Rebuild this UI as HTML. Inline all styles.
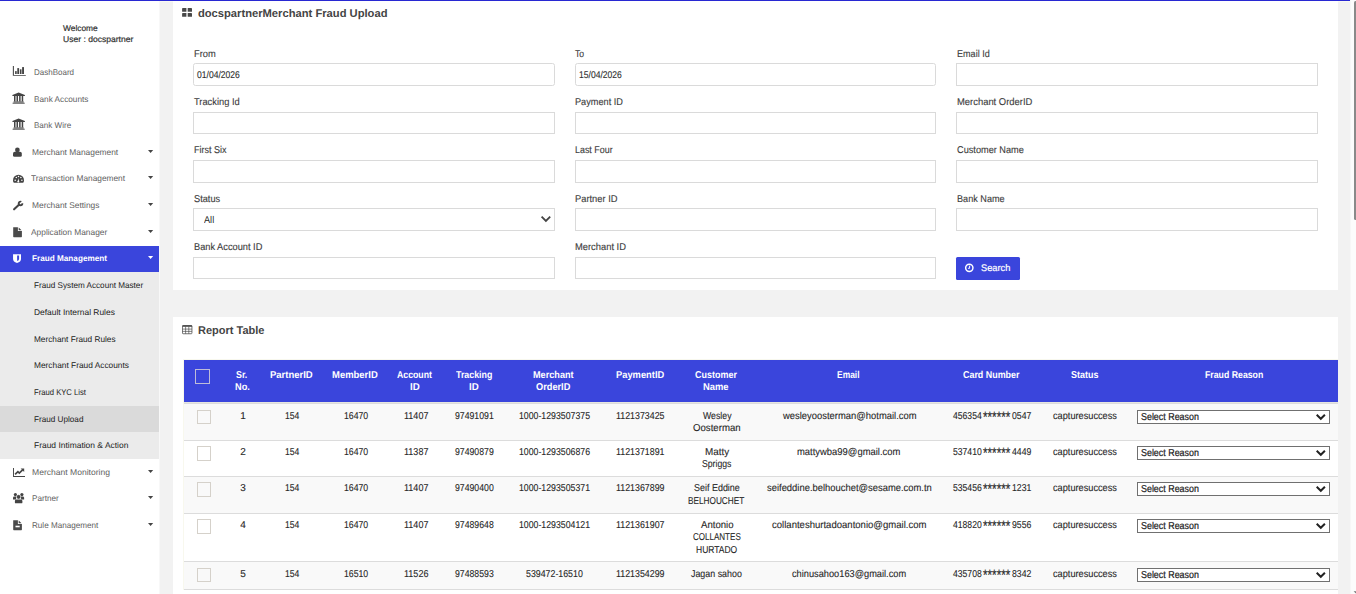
<!DOCTYPE html>
<html><head><meta charset="utf-8"><title>Merchant Fraud Upload</title>
<style>
html,body{margin:0;padding:0}
body{width:1356px;height:594px;overflow:hidden;background:#f2f2f2;position:relative;font-family:"Liberation Sans", sans-serif}
.b{position:absolute;box-sizing:content-box;display:block}
.t{position:absolute;white-space:pre;text-rendering:geometricPrecision;transform-origin:0 50%;line-height:16px;height:16px;font-family:"Liberation Sans", sans-serif}
</style></head><body>
<div class="b" style="left:0px;top:0px;width:1350px;height:1px;background:#2828d2;"></div>
<div class="b" style="left:0px;top:1px;width:1350px;height:1px;background:#fafaf2;"></div>
<div class="b" style="left:1350px;top:0px;width:1px;height:594px;background:#f7f7f7;"></div>
<div class="b" style="left:1351px;top:0px;width:5px;height:594px;background:#fcfcfc;"></div>
<div class="b" style="left:1354px;top:1px;width:2px;height:218.5px;background:#8a8a8a;border-radius:1.5px 0 0 1.5px;"></div>
<svg class="b" style="left:1352px;top:590px" width="4" height="4" viewBox="0 0 4 4"><path d="M1.6 1.2H4V3.6z" fill="#777"/></svg>
<div class="b" style="left:0px;top:1px;width:159px;height:593px;background:#fff;"></div>
<div class="b" style="left:159px;top:1px;width:1px;height:593px;background:#f8f8f8;"></div>
<span class="t" style="left:63.00px;top:20px;font-size:8.3px;color:#333;transform:scaleX(1.0082);-webkit-text-stroke:0.2px #333;">Welcome</span>
<span class="t" style="left:63.00px;top:31px;font-size:8.3px;color:#333;transform:scaleX(1.0309);-webkit-text-stroke:0.2px #333;">User : docspartner</span>
<div class="b" style="left:0px;top:246px;width:159px;height:26px;background:#3a45dc;"></div>
<div class="b" style="left:0px;top:272px;width:159px;height:187px;background:#ebebeb;"></div>
<div class="b" style="left:0px;top:406px;width:159px;height:26px;background:#dadada;"></div>
<span class="t" style="left:34.00px;top:64px;font-size:8.3px;color:#626262;transform:scaleX(0.9643);">DashBoard</span>
<span class="t" style="left:33.80px;top:91px;font-size:8.3px;color:#626262;transform:scaleX(0.9910);">Bank Accounts</span>
<span class="t" style="left:33.80px;top:117px;font-size:8.3px;color:#626262;transform:scaleX(0.9702);">Bank Wire</span>
<span class="t" style="left:31.60px;top:144px;font-size:8.3px;color:#626262;transform:scaleX(1.0103);">Merchant Management</span>
<svg class="b" style="left:148px;top:150px" width="6" height="4" viewBox="0 0 6 4"><path d="M0 0H5.2L2.6 3z" fill="#444"/></svg>
<span class="t" style="left:31.10px;top:170px;font-size:8.3px;color:#626262;transform:scaleX(1.0025);">Transaction Management</span>
<svg class="b" style="left:148px;top:176px" width="6" height="4" viewBox="0 0 6 4"><path d="M0 0H5.2L2.6 3z" fill="#444"/></svg>
<span class="t" style="left:31.60px;top:197px;font-size:8.3px;color:#626262;transform:scaleX(1.0087);">Merchant Settings</span>
<svg class="b" style="left:148px;top:203px" width="6" height="4" viewBox="0 0 6 4"><path d="M0 0H5.2L2.6 3z" fill="#444"/></svg>
<span class="t" style="left:31.10px;top:224px;font-size:8.3px;color:#626262;transform:scaleX(1.0082);">Application Manager</span>
<svg class="b" style="left:148px;top:230px" width="6" height="4" viewBox="0 0 6 4"><path d="M0 0H5.2L2.6 3z" fill="#444"/></svg>
<span class="t" style="left:31.80px;top:250px;font-size:8.3px;color:#fff;font-weight:700;transform:scaleX(0.9855);">Fraud Management</span>
<svg class="b" style="left:148px;top:256px" width="6" height="4" viewBox="0 0 6 4"><path d="M0 0H5.2L2.6 3z" fill="#fff"/></svg>
<span class="t" style="left:33.80px;top:277px;font-size:8.3px;color:#222;transform:scaleX(0.9819);">Fraud System Account Master</span>
<span class="t" style="left:33.80px;top:304px;font-size:8.3px;color:#222;transform:scaleX(1.0134);">Default Internal Rules</span>
<span class="t" style="left:33.80px;top:331px;font-size:8.3px;color:#222;transform:scaleX(0.9935);">Merchant Fraud Rules</span>
<span class="t" style="left:33.80px;top:357px;font-size:8.3px;color:#222;transform:scaleX(1.0048);">Merchant Fraud Accounts</span>
<span class="t" style="left:33.80px;top:384px;font-size:8.3px;color:#222;transform:scaleX(0.9236);">Fraud KYC List</span>
<span class="t" style="left:33.80px;top:411px;font-size:8.3px;color:#222;transform:scaleX(0.9831);">Fraud Upload</span>
<span class="t" style="left:33.80px;top:437px;font-size:8.3px;color:#222;transform:scaleX(1.0178);">Fraud Intimation &amp; Action</span>
<span class="t" style="left:31.65px;top:464px;font-size:8.3px;color:#626262;transform:scaleX(1.0314);">Merchant Monitoring</span>
<svg class="b" style="left:148px;top:470px" width="6" height="4" viewBox="0 0 6 4"><path d="M0 0H5.2L2.6 3z" fill="#444"/></svg>
<span class="t" style="left:31.65px;top:490px;font-size:8.3px;color:#626262;transform:scaleX(0.9838);">Partner</span>
<svg class="b" style="left:148px;top:496px" width="6" height="4" viewBox="0 0 6 4"><path d="M0 0H5.2L2.6 3z" fill="#444"/></svg>
<span class="t" style="left:31.65px;top:517px;font-size:8.3px;color:#626262;transform:scaleX(0.9768);">Rule Management</span>
<svg class="b" style="left:148px;top:523px" width="6" height="4" viewBox="0 0 6 4"><path d="M0 0H5.2L2.6 3z" fill="#444"/></svg>
<svg class="b" style="left:12px;top:65px" width="15" height="12" viewBox="0 0 15 12"><path d="M0.85 1V10.8H13.8V9.9H1.9V1z" fill="#444"/><rect x="3.1" y="6.1" width="1.6" height="2.9" fill="#444"/><rect x="5.3" y="3.1" width="1.8" height="5.9" fill="#444"/><rect x="7.9" y="4.3" width="1.6" height="4.7" fill="#444"/><rect x="10.1" y="2.1" width="1.9" height="6.9" fill="#444"/></svg>
<svg class="b" style="left:12px;top:92px" width="14" height="13" viewBox="0 0 14 13"><path d="M6.6 0.5L12.9 3.1V3.9H0.4V3.1z" fill="#444"/><rect x="2.0" y="3.9" width="1.5" height="5.6" fill="#444"/><rect x="4.5" y="3.9" width="1.5" height="5.6" fill="#444"/><rect x="7.1" y="3.9" width="1.5" height="5.6" fill="#444"/><rect x="9.7" y="3.9" width="1.5" height="5.6" fill="#444"/><rect x="1.5" y="9.5" width="10.2" height="1.1" fill="#444"/><rect x="0.6" y="10.6" width="12.1" height="1.3" fill="#777"/></svg>
<svg class="b" style="left:12px;top:118px" width="14" height="13" viewBox="0 0 14 13"><path d="M6.6 0.5L12.9 3.1V3.9H0.4V3.1z" fill="#444"/><rect x="2.0" y="3.9" width="1.5" height="5.6" fill="#444"/><rect x="4.5" y="3.9" width="1.5" height="5.6" fill="#444"/><rect x="7.1" y="3.9" width="1.5" height="5.6" fill="#444"/><rect x="9.7" y="3.9" width="1.5" height="5.6" fill="#444"/><rect x="1.5" y="9.5" width="10.2" height="1.1" fill="#444"/><rect x="0.6" y="10.6" width="12.1" height="1.3" fill="#777"/></svg>
<svg class="b" style="left:12px;top:147px" width="12" height="11" viewBox="0 0 12 11"><circle cx="5.4" cy="2.9" r="2.35" fill="#444"/><path d="M1 6.6Q1 4.8 2.8 4.8H8Q9.8 4.8 9.8 6.6V8.4Q9.8 9.8 8.3 9.8H2.5Q1 9.8 1 8.4z" fill="#444"/></svg>
<svg class="b" style="left:12px;top:174px" width="14" height="10" viewBox="0 0 14 10"><path d="M1 6.3A5.5 5.6 0 0 1 12 6.3Q12 7.8 11.2 8.8H1.8Q1 7.8 1 6.3z" fill="#444"/><circle cx="3.2" cy="6.3" r="0.75" fill="#fff"/><circle cx="4.3" cy="3.6" r="0.75" fill="#fff"/><circle cx="6.5" cy="2.5" r="0.75" fill="#fff"/><circle cx="8.9" cy="3.6" r="0.75" fill="#fff"/><circle cx="9.9" cy="6.3" r="0.75" fill="#fff"/><path d="M6.9 3.9L6.0 6.4A1 1 0 1 0 6.9 6.6z" fill="#fff"/></svg>
<svg class="b" style="left:12px;top:200px" width="13" height="11" viewBox="0 0 13 11"><circle cx="8.5" cy="3.4" r="1.8" stroke="#444" stroke-width="1.9" fill="none"/><path d="M8.3 3.5L10.3 0H13V3.1z" fill="#fff"/><path d="M2.1 9.3L7.2 4.6" stroke="#444" stroke-width="2.1" stroke-linecap="round" fill="none"/></svg>
<svg class="b" style="left:12px;top:227px" width="11" height="11" viewBox="0 0 11 11"><path d="M1.2 0.2H5.9V3.9H9.9V9.6Q9.9 10.2 9.3 10.2H1.8Q1.2 10.2 1.2 9.6z" fill="#4a4a4a"/><path d="M6.7 0.4L9.6 3.2H6.7z" fill="#4a4a4a"/></svg>
<svg class="b" style="left:12px;top:254px" width="10" height="10" viewBox="0 0 10 10"><path d="M1.05 0.2H9V4.9Q9 7.6 5 9.1Q1.05 7.6 1.05 4.9z" fill="#fff"/><path d="M5.1 1.4H7.1V4.9Q7.1 6.2 5.1 7.1z" fill="#3a45dc"/></svg>
<svg class="b" style="left:12px;top:467px" width="15" height="11" viewBox="0 0 15 11"><path d="M1.05 0.9V10H13V9.1H2V0.9z" fill="#444"/><path d="M3.1 7.4L5.9 4.6L7.3 6L10.6 2.9" stroke="#444" stroke-width="1.7" fill="none"/><path d="M8.7 1.6H12.2V5.1z" fill="#444"/></svg>
<svg class="b" style="left:12px;top:492px" width="14" height="12" viewBox="0 0 14 12"><circle cx="3.4" cy="2.6" r="1.6" fill="#444"/><circle cx="9.9" cy="2.6" r="1.6" fill="#444"/><path d="M1 5.8Q1 4.4 2.4 4.4H4.2L4 7.4H1z" fill="#444"/><path d="M12.1 5.8Q12.1 4.4 10.7 4.4H9L9.2 7.4H12.1z" fill="#444"/><circle cx="6.6" cy="4.9" r="2.1" fill="#444" stroke="#fff" stroke-width="0.3"/><path d="M2.9 9Q2.9 7.6 4.4 7.6H8.8Q10.4 7.6 10.4 9V10.4Q10.4 11.3 9.4 11.3H3.9Q2.9 11.3 2.9 10.4z" fill="#444"/></svg>
<svg class="b" style="left:12px;top:520px" width="11" height="11" viewBox="0 0 11 11"><path d="M1.2 0.2H5.9V3.9H9.9V9.6Q9.9 10.2 9.3 10.2H1.8Q1.2 10.2 1.2 9.6z" fill="#4a4a4a"/><path d="M6.7 0.4L9.6 3.2H6.7z" fill="#4a4a4a"/><rect x="3.5" y="5.7" width="4.2" height="1.6" fill="#fff"/></svg>
<div class="b" style="left:173px;top:1px;width:1165px;height:289px;background:#fff;"></div>
<svg class="b" style="left:182px;top:8px" width="11" height="9" viewBox="0 0 11 9"><rect x="0.1" y="0.1" width="4.3" height="3.7" rx="0.4" fill="#484848"/><rect x="5.7" y="0.1" width="4.3" height="3.7" rx="0.4" fill="#484848"/><rect x="0.1" y="5.1" width="4.3" height="3.7" rx="0.4" fill="#484848"/><rect x="5.7" y="5.1" width="4.3" height="3.7" rx="0.4" fill="#484848"/></svg>
<span class="t" style="left:197.90px;top:6px;font-size:11.2px;color:#444;font-weight:700;">docspartnerMerchant Fraud Upload</span>
<span class="t" style="left:193.50px;top:47px;font-size:9.9px;color:#3c3c3c;transform:scaleX(0.9425);-webkit-text-stroke:0.12px #3c3c3c;">From</span>
<div class="b" style="left:193px;top:63px;width:360px;height:21px;background:#fff;border:1px solid #dadada;border-radius:2.5px;"></div>
<span class="t" style="left:575.20px;top:47px;font-size:9.9px;color:#3c3c3c;transform:scaleX(0.8687);-webkit-text-stroke:0.12px #3c3c3c;">To</span>
<div class="b" style="left:575px;top:63px;width:359px;height:21px;background:#fff;border:1px solid #dadada;border-radius:2.5px;"></div>
<span class="t" style="left:956.80px;top:47px;font-size:9.9px;color:#3c3c3c;transform:scaleX(0.9181);-webkit-text-stroke:0.12px #3c3c3c;">Email Id</span>
<div class="b" style="left:956px;top:63px;width:360px;height:21px;background:#fff;border:1px solid #dadada;"></div>
<span class="t" style="left:193.50px;top:95px;font-size:9.9px;color:#3c3c3c;transform:scaleX(0.9419);-webkit-text-stroke:0.12px #3c3c3c;">Tracking Id</span>
<div class="b" style="left:193px;top:112px;width:360px;height:20px;background:#fff;border:1px solid #dadada;"></div>
<span class="t" style="left:575.20px;top:95px;font-size:9.9px;color:#3c3c3c;transform:scaleX(0.9289);-webkit-text-stroke:0.12px #3c3c3c;">Payment ID</span>
<div class="b" style="left:575px;top:112px;width:359px;height:20px;background:#fff;border:1px solid #dadada;"></div>
<span class="t" style="left:956.80px;top:95px;font-size:9.9px;color:#3c3c3c;transform:scaleX(0.9532);-webkit-text-stroke:0.12px #3c3c3c;">Merchant OrderID</span>
<div class="b" style="left:956px;top:112px;width:360px;height:20px;background:#fff;border:1px solid #dadada;"></div>
<span class="t" style="left:193.50px;top:143px;font-size:9.9px;color:#3c3c3c;transform:scaleX(0.9127);-webkit-text-stroke:0.12px #3c3c3c;">First Six</span>
<div class="b" style="left:193px;top:160px;width:360px;height:21px;background:#fff;border:1px solid #dadada;"></div>
<span class="t" style="left:575.20px;top:143px;font-size:9.9px;color:#3c3c3c;transform:scaleX(0.9028);-webkit-text-stroke:0.12px #3c3c3c;">Last Four</span>
<div class="b" style="left:575px;top:160px;width:359px;height:21px;background:#fff;border:1px solid #dadada;"></div>
<span class="t" style="left:956.80px;top:143px;font-size:9.9px;color:#3c3c3c;transform:scaleX(0.9296);-webkit-text-stroke:0.12px #3c3c3c;">Customer Name</span>
<div class="b" style="left:956px;top:160px;width:360px;height:21px;background:#fff;border:1px solid #dadada;"></div>
<span class="t" style="left:193.50px;top:192px;font-size:9.9px;color:#3c3c3c;transform:scaleX(0.9338);-webkit-text-stroke:0.12px #3c3c3c;">Status</span>
<div class="b" style="left:193px;top:208px;width:360px;height:21px;background:#fff;border:1px solid #dadada;"></div>
<span class="t" style="left:575.20px;top:192px;font-size:9.9px;color:#3c3c3c;transform:scaleX(0.9449);-webkit-text-stroke:0.12px #3c3c3c;">Partner ID</span>
<div class="b" style="left:575px;top:208px;width:359px;height:21px;background:#fff;border:1px solid #dadada;"></div>
<span class="t" style="left:956.80px;top:192px;font-size:9.9px;color:#3c3c3c;transform:scaleX(0.9232);-webkit-text-stroke:0.12px #3c3c3c;">Bank Name</span>
<div class="b" style="left:956px;top:208px;width:360px;height:21px;background:#fff;border:1px solid #dadada;"></div>
<span class="t" style="left:193.50px;top:240px;font-size:9.9px;color:#3c3c3c;transform:scaleX(0.9357);-webkit-text-stroke:0.12px #3c3c3c;">Bank Account ID</span>
<div class="b" style="left:193px;top:257px;width:360px;height:20px;background:#fff;border:1px solid #dadada;"></div>
<span class="t" style="left:575.20px;top:240px;font-size:9.9px;color:#3c3c3c;transform:scaleX(0.9469);-webkit-text-stroke:0.12px #3c3c3c;">Merchant ID</span>
<div class="b" style="left:575px;top:257px;width:359px;height:20px;background:#fff;border:1px solid #dadada;"></div>
<span class="t" style="left:197.10px;top:68px;font-size:9.8px;color:#2b2b2b;transform:scaleX(0.8733);-webkit-text-stroke:0.1px #2b2b2b;">01/04/2026</span>
<span class="t" style="left:578.90px;top:68px;font-size:9.8px;color:#2b2b2b;transform:scaleX(0.8733);-webkit-text-stroke:0.1px #2b2b2b;">15/04/2026</span>
<span class="t" style="left:204.10px;top:213px;font-size:9.8px;color:#2a2a2a;transform:scaleX(0.9336);">All</span>
<svg class="b" style="left:540px;top:215px" width="12" height="8" viewBox="0 0 12 8"><path d="M1.6 1.7L5.9 6L10.2 1.7" stroke="#444" stroke-width="1.8" fill="none"/></svg>
<div class="b" style="left:956px;top:257px;width:64px;height:23px;background:#3a45dc;border-radius:1.5px;"></div>
<svg class="b" style="left:964px;top:262px" width="12" height="12" viewBox="0 0 12 12"><g transform="translate(0.00,0.50)"><circle cx="5.3" cy="5.3" r="3.65" stroke="#fff" stroke-width="1.45" fill="none"/><path d="M5.6 3.2V5.8H4.1" stroke="#fff" stroke-width="1" fill="none"/></g></svg>
<span class="t" style="left:981.20px;top:261px;font-size:9.5px;color:#fff;transform:scaleX(0.9726);-webkit-text-stroke:0.2px #fff;">Search</span>
<div class="b" style="left:173px;top:317px;width:1165px;height:277px;background:#fff;"></div>
<svg class="b" style="left:182px;top:325px" width="11" height="10" viewBox="0 0 11 10"><rect x="0.45" y="0.65" width="9.5" height="8.1" rx="0.7" fill="none" stroke="#444" stroke-width="0.75"/><rect x="0.3" y="0.3" width="9.8" height="1.5" rx="0.5" fill="#444"/><path d="M0.5 4.1H9.9M0.5 6.4H9.9M3.6 1.5V8.7M6.8 1.5V8.7" stroke="#444" stroke-width="0.65" fill="none"/></svg>
<span class="t" style="left:198.00px;top:323px;font-size:11.2px;color:#444;font-weight:700;transform:scaleX(0.9833);">Report Table</span>
<div class="b" style="left:183px;top:359px;width:1155px;height:1px;background:#f8f8ee;"></div>
<div class="b" style="left:183px;top:359px;width:1px;height:231px;background:#f8f8ee;"></div>
<div class="b" style="left:184px;top:360px;width:1154px;height:42px;background:#3a45dc;"></div>
<div class="b" style="left:184px;top:402px;width:1154px;height:1px;background:#e6e6e0;"></div>
<div class="b" style="left:184px;top:403px;width:1154px;height:1px;background:#dcdcdc;"></div>
<div class="b" style="left:195px;top:369px;width:13px;height:13px;border:1px solid #bebcd8;"></div>
<span class="t" style="left:236.25px;top:368px;font-size:10px;color:#fff;font-weight:700;transform:scaleX(0.8840);">Sr.</span>
<span class="t" style="left:234.50px;top:380px;font-size:10px;color:#fff;font-weight:700;transform:scaleX(0.9186);">No.</span>
<span class="t" style="left:269.75px;top:368px;font-size:10px;color:#fff;font-weight:700;transform:scaleX(0.9488);">PartnerID</span>
<span class="t" style="left:332.25px;top:368px;font-size:10px;color:#fff;font-weight:700;transform:scaleX(0.9455);">MemberID</span>
<span class="t" style="left:397.25px;top:368px;font-size:10px;color:#fff;font-weight:700;transform:scaleX(0.8729);">Account</span>
<span class="t" style="left:410.25px;top:380px;font-size:10px;color:#fff;font-weight:700;transform:scaleX(0.9715);">ID</span>
<span class="t" style="left:455.85px;top:368px;font-size:10px;color:#fff;font-weight:700;transform:scaleX(0.8849);">Tracking</span>
<span class="t" style="left:469.25px;top:380px;font-size:10px;color:#fff;font-weight:700;transform:scaleX(0.9715);">ID</span>
<span class="t" style="left:532.60px;top:368px;font-size:10px;color:#fff;font-weight:700;transform:scaleX(0.9131);">Merchant</span>
<span class="t" style="left:536.25px;top:380px;font-size:10px;color:#fff;font-weight:700;transform:scaleX(0.9214);">OrderID</span>
<span class="t" style="left:616.00px;top:368px;font-size:10px;color:#fff;font-weight:700;transform:scaleX(0.9327);">PaymentID</span>
<span class="t" style="left:695.00px;top:368px;font-size:10px;color:#fff;font-weight:700;transform:scaleX(0.8978);">Customer</span>
<span class="t" style="left:703.00px;top:380px;font-size:10px;color:#fff;font-weight:700;transform:scaleX(0.9395);">Name</span>
<span class="t" style="left:836.65px;top:368px;font-size:10px;color:#fff;font-weight:700;transform:scaleX(0.8438);">Email</span>
<span class="t" style="left:962.90px;top:368px;font-size:10px;color:#fff;font-weight:700;transform:scaleX(0.8920);">Card Number</span>
<span class="t" style="left:1070.50px;top:368px;font-size:10px;color:#fff;font-weight:700;transform:scaleX(0.8968);">Status</span>
<span class="t" style="left:1204.90px;top:368px;font-size:10px;color:#fff;font-weight:700;transform:scaleX(0.8743);">Fraud Reason</span>
<div class="b" style="left:184px;top:404px;width:1154px;height:36px;background:#f9f9f9;"></div>
<div class="b" style="left:197px;top:410px;width:12px;height:12px;border:1px solid #d5d1ca;"></div>
<span class="t" style="left:240.20px;top:409px;font-size:10px;color:#262626;-webkit-text-stroke:0.1px #262626;">1</span>
<span class="t" style="left:284.70px;top:409px;font-size:10px;color:#262626;transform:scaleX(0.8643);-webkit-text-stroke:0.1px #262626;">154</span>
<span class="t" style="left:343.60px;top:409px;font-size:10px;color:#262626;transform:scaleX(0.8709);-webkit-text-stroke:0.1px #262626;">16470</span>
<span class="t" style="left:403.90px;top:409px;font-size:10px;color:#262626;transform:scaleX(0.9017);-webkit-text-stroke:0.1px #262626;">11407</span>
<span class="t" style="left:455.35px;top:409px;font-size:10px;color:#262626;transform:scaleX(0.8702);-webkit-text-stroke:0.1px #262626;">97491091</span>
<span class="t" style="left:518.60px;top:409px;font-size:10px;color:#262626;transform:scaleX(0.8747);-webkit-text-stroke:0.1px #262626;">1000-1293507375</span>
<span class="t" style="left:616.45px;top:409px;font-size:10px;color:#262626;transform:scaleX(0.8841);-webkit-text-stroke:0.1px #262626;">1121373425</span>
<span class="t" style="left:702.85px;top:409px;font-size:10px;color:#262626;transform:scaleX(0.8742);-webkit-text-stroke:0.1px #262626;">Wesley</span>
<span class="t" style="left:693.05px;top:421px;font-size:10px;color:#262626;transform:scaleX(0.9632);-webkit-text-stroke:0.1px #262626;">Oosterman</span>
<span class="t" style="left:782.84px;top:409px;font-size:10px;color:#262626;transform:scaleX(0.9415);-webkit-text-stroke:0.1px #262626;">wesleyoosterman@hotmail.com</span>
<span class="t" style="left:953.30px;top:409px;font-size:10px;color:#262626;transform:scaleX(0.8608);-webkit-text-stroke:0.1px #262626;">456354</span>
<span class="t" style="left:983.40px;top:410px;font-size:15px;color:#262626;transform:scaleX(0.7787);-webkit-text-stroke:0.15px #262626;">******</span>
<span class="t" style="left:1011.50px;top:409px;font-size:10px;color:#262626;transform:scaleX(0.8684);-webkit-text-stroke:0.1px #262626;">0547</span>
<span class="t" style="left:1053.45px;top:409px;font-size:10px;color:#262626;transform:scaleX(0.9197);-webkit-text-stroke:0.1px #262626;">capturesuccess</span>
<div class="b" style="left:1137.2px;top:410px;width:191px;height:12px;background:#fff;border:1px solid #707070;"></div>
<span class="t" style="left:1140.60px;top:410px;font-size:10px;color:#1a1a1a;transform:scaleX(0.8902);-webkit-text-stroke:0.2px #1a1a1a;">Select Reason</span>
<svg class="b" style="left:1315px;top:413px" width="12" height="9" viewBox="0 0 12 9"><path d="M1.7 1.8L5.8 5.75L9.9 1.8" stroke="#222" stroke-width="2" fill="none"/></svg>
<div class="b" style="left:184px;top:440px;width:1154px;height:1px;background:#dcdcdc;"></div>
<div class="b" style="left:197px;top:446px;width:12px;height:13px;border:1px solid #d5d1ca;"></div>
<span class="t" style="left:240.20px;top:445px;font-size:10px;color:#262626;-webkit-text-stroke:0.1px #262626;">2</span>
<span class="t" style="left:284.70px;top:445px;font-size:10px;color:#262626;transform:scaleX(0.8643);-webkit-text-stroke:0.1px #262626;">154</span>
<span class="t" style="left:343.60px;top:445px;font-size:10px;color:#262626;transform:scaleX(0.8709);-webkit-text-stroke:0.1px #262626;">16470</span>
<span class="t" style="left:403.90px;top:445px;font-size:10px;color:#262626;transform:scaleX(0.9017);-webkit-text-stroke:0.1px #262626;">11387</span>
<span class="t" style="left:455.35px;top:445px;font-size:10px;color:#262626;transform:scaleX(0.8702);-webkit-text-stroke:0.1px #262626;">97490879</span>
<span class="t" style="left:518.60px;top:445px;font-size:10px;color:#262626;transform:scaleX(0.8747);-webkit-text-stroke:0.1px #262626;">1000-1293506876</span>
<span class="t" style="left:616.45px;top:445px;font-size:10px;color:#262626;transform:scaleX(0.8841);-webkit-text-stroke:0.1px #262626;">1121371891</span>
<span class="t" style="left:705.40px;top:445px;font-size:10px;color:#262626;transform:scaleX(0.9898);-webkit-text-stroke:0.1px #262626;">Matty</span>
<span class="t" style="left:701.70px;top:457px;font-size:10px;color:#262626;transform:scaleX(0.8671);-webkit-text-stroke:0.1px #262626;">Spriggs</span>
<span class="t" style="left:797.45px;top:445px;font-size:10px;color:#262626;transform:scaleX(0.9432);-webkit-text-stroke:0.1px #262626;">mattywba99@gmail.com</span>
<span class="t" style="left:953.30px;top:445px;font-size:10px;color:#262626;transform:scaleX(0.8608);-webkit-text-stroke:0.1px #262626;">537410</span>
<span class="t" style="left:983.40px;top:446px;font-size:15px;color:#262626;transform:scaleX(0.7787);-webkit-text-stroke:0.15px #262626;">******</span>
<span class="t" style="left:1011.50px;top:445px;font-size:10px;color:#262626;transform:scaleX(0.8684);-webkit-text-stroke:0.1px #262626;">4449</span>
<span class="t" style="left:1053.45px;top:445px;font-size:10px;color:#262626;transform:scaleX(0.9197);-webkit-text-stroke:0.1px #262626;">capturesuccess</span>
<div class="b" style="left:1137.2px;top:446px;width:191px;height:12px;background:#fff;border:1px solid #707070;"></div>
<span class="t" style="left:1140.60px;top:446px;font-size:10px;color:#1a1a1a;transform:scaleX(0.8902);-webkit-text-stroke:0.2px #1a1a1a;">Select Reason</span>
<svg class="b" style="left:1315px;top:449px" width="12" height="9" viewBox="0 0 12 9"><path d="M1.7 1.8L5.8 5.75L9.9 1.8" stroke="#222" stroke-width="2" fill="none"/></svg>
<div class="b" style="left:184px;top:476px;width:1154px;height:37px;background:#f9f9f9;"></div>
<div class="b" style="left:184px;top:476px;width:1154px;height:1px;background:#dcdcdc;"></div>
<div class="b" style="left:197px;top:482px;width:12px;height:13px;border:1px solid #d5d1ca;"></div>
<span class="t" style="left:240.20px;top:481px;font-size:10px;color:#262626;-webkit-text-stroke:0.1px #262626;">3</span>
<span class="t" style="left:284.70px;top:481px;font-size:10px;color:#262626;transform:scaleX(0.8643);-webkit-text-stroke:0.1px #262626;">154</span>
<span class="t" style="left:343.60px;top:481px;font-size:10px;color:#262626;transform:scaleX(0.8709);-webkit-text-stroke:0.1px #262626;">16470</span>
<span class="t" style="left:403.90px;top:481px;font-size:10px;color:#262626;transform:scaleX(0.9017);-webkit-text-stroke:0.1px #262626;">11407</span>
<span class="t" style="left:455.35px;top:481px;font-size:10px;color:#262626;transform:scaleX(0.8702);-webkit-text-stroke:0.1px #262626;">97490400</span>
<span class="t" style="left:518.60px;top:481px;font-size:10px;color:#262626;transform:scaleX(0.8747);-webkit-text-stroke:0.1px #262626;">1000-1293505371</span>
<span class="t" style="left:616.45px;top:481px;font-size:10px;color:#262626;transform:scaleX(0.8841);-webkit-text-stroke:0.1px #262626;">1121367899</span>
<span class="t" style="left:694.30px;top:481px;font-size:10px;color:#262626;transform:scaleX(0.8956);-webkit-text-stroke:0.1px #262626;">Seif Eddine</span>
<span class="t" style="left:688.40px;top:494px;font-size:10px;color:#262626;transform:scaleX(0.8236);-webkit-text-stroke:0.1px #262626;">BELHOUCHET</span>
<span class="t" style="left:766.85px;top:481px;font-size:10px;color:#262626;transform:scaleX(0.9405);-webkit-text-stroke:0.1px #262626;">seifeddine.belhouchet@sesame.com.tn</span>
<span class="t" style="left:953.30px;top:481px;font-size:10px;color:#262626;transform:scaleX(0.8608);-webkit-text-stroke:0.1px #262626;">535456</span>
<span class="t" style="left:983.40px;top:482px;font-size:15px;color:#262626;transform:scaleX(0.7787);-webkit-text-stroke:0.15px #262626;">******</span>
<span class="t" style="left:1011.50px;top:481px;font-size:10px;color:#262626;transform:scaleX(0.8684);-webkit-text-stroke:0.1px #262626;">1231</span>
<span class="t" style="left:1053.45px;top:481px;font-size:10px;color:#262626;transform:scaleX(0.9197);-webkit-text-stroke:0.1px #262626;">capturesuccess</span>
<div class="b" style="left:1137.2px;top:482px;width:191px;height:12px;background:#fff;border:1px solid #707070;"></div>
<span class="t" style="left:1140.60px;top:482px;font-size:10px;color:#1a1a1a;transform:scaleX(0.8902);-webkit-text-stroke:0.2px #1a1a1a;">Select Reason</span>
<svg class="b" style="left:1315px;top:485px" width="12" height="9" viewBox="0 0 12 9"><path d="M1.7 1.8L5.8 5.75L9.9 1.8" stroke="#222" stroke-width="2" fill="none"/></svg>
<div class="b" style="left:184px;top:513px;width:1154px;height:1px;background:#dcdcdc;"></div>
<div class="b" style="left:197px;top:519px;width:12px;height:13px;border:1px solid #d5d1ca;"></div>
<span class="t" style="left:240.20px;top:518px;font-size:10px;color:#262626;-webkit-text-stroke:0.1px #262626;">4</span>
<span class="t" style="left:284.70px;top:518px;font-size:10px;color:#262626;transform:scaleX(0.8643);-webkit-text-stroke:0.1px #262626;">154</span>
<span class="t" style="left:343.60px;top:518px;font-size:10px;color:#262626;transform:scaleX(0.8709);-webkit-text-stroke:0.1px #262626;">16470</span>
<span class="t" style="left:403.90px;top:518px;font-size:10px;color:#262626;transform:scaleX(0.9017);-webkit-text-stroke:0.1px #262626;">11407</span>
<span class="t" style="left:455.35px;top:518px;font-size:10px;color:#262626;transform:scaleX(0.8702);-webkit-text-stroke:0.1px #262626;">97489648</span>
<span class="t" style="left:518.60px;top:518px;font-size:10px;color:#262626;transform:scaleX(0.8747);-webkit-text-stroke:0.1px #262626;">1000-1293504121</span>
<span class="t" style="left:616.45px;top:518px;font-size:10px;color:#262626;transform:scaleX(0.8841);-webkit-text-stroke:0.1px #262626;">1121361907</span>
<span class="t" style="left:701.00px;top:518px;font-size:10px;color:#262626;transform:scaleX(0.9606);-webkit-text-stroke:0.1px #262626;">Antonio</span>
<span class="t" style="left:692.50px;top:530px;font-size:10px;color:#262626;transform:scaleX(0.8028);-webkit-text-stroke:0.1px #262626;">COLLANTES</span>
<span class="t" style="left:695.80px;top:543px;font-size:10px;color:#262626;transform:scaleX(0.8494);-webkit-text-stroke:0.1px #262626;">HURTADO</span>
<span class="t" style="left:771.90px;top:518px;font-size:10px;color:#262626;transform:scaleX(0.9543);-webkit-text-stroke:0.1px #262626;">collanteshurtadoantonio@gmail.com</span>
<span class="t" style="left:953.30px;top:518px;font-size:10px;color:#262626;transform:scaleX(0.8608);-webkit-text-stroke:0.1px #262626;">418820</span>
<span class="t" style="left:983.40px;top:519px;font-size:15px;color:#262626;transform:scaleX(0.7787);-webkit-text-stroke:0.15px #262626;">******</span>
<span class="t" style="left:1011.50px;top:518px;font-size:10px;color:#262626;transform:scaleX(0.8684);-webkit-text-stroke:0.1px #262626;">9556</span>
<span class="t" style="left:1053.45px;top:518px;font-size:10px;color:#262626;transform:scaleX(0.9197);-webkit-text-stroke:0.1px #262626;">capturesuccess</span>
<div class="b" style="left:1137.2px;top:519px;width:191px;height:12px;background:#fff;border:1px solid #707070;"></div>
<span class="t" style="left:1140.60px;top:519px;font-size:10px;color:#1a1a1a;transform:scaleX(0.8902);-webkit-text-stroke:0.2px #1a1a1a;">Select Reason</span>
<svg class="b" style="left:1315px;top:522px" width="12" height="9" viewBox="0 0 12 9"><path d="M1.7 1.8L5.8 5.75L9.9 1.8" stroke="#222" stroke-width="2" fill="none"/></svg>
<div class="b" style="left:184px;top:561px;width:1154px;height:28px;background:#f9f9f9;"></div>
<div class="b" style="left:184px;top:561px;width:1154px;height:1px;background:#dcdcdc;"></div>
<div class="b" style="left:197px;top:568px;width:12px;height:12px;border:1px solid #d5d1ca;"></div>
<span class="t" style="left:240.20px;top:567px;font-size:10px;color:#262626;-webkit-text-stroke:0.1px #262626;">5</span>
<span class="t" style="left:284.70px;top:567px;font-size:10px;color:#262626;transform:scaleX(0.8643);-webkit-text-stroke:0.1px #262626;">154</span>
<span class="t" style="left:343.60px;top:567px;font-size:10px;color:#262626;transform:scaleX(0.8709);-webkit-text-stroke:0.1px #262626;">16510</span>
<span class="t" style="left:403.90px;top:567px;font-size:10px;color:#262626;transform:scaleX(0.9017);-webkit-text-stroke:0.1px #262626;">11526</span>
<span class="t" style="left:455.35px;top:567px;font-size:10px;color:#262626;transform:scaleX(0.8702);-webkit-text-stroke:0.1px #262626;">97488593</span>
<span class="t" style="left:525.70px;top:567px;font-size:10px;color:#262626;transform:scaleX(0.8807);-webkit-text-stroke:0.1px #262626;">539472-16510</span>
<span class="t" style="left:616.45px;top:567px;font-size:10px;color:#262626;transform:scaleX(0.8841);-webkit-text-stroke:0.1px #262626;">1121354299</span>
<span class="t" style="left:691.30px;top:567px;font-size:10px;color:#262626;transform:scaleX(0.8872);-webkit-text-stroke:0.1px #262626;">Jagan sahoo</span>
<span class="t" style="left:792.10px;top:567px;font-size:10px;color:#262626;transform:scaleX(0.9235);-webkit-text-stroke:0.1px #262626;">chinusahoo163@gmail.com</span>
<span class="t" style="left:953.30px;top:567px;font-size:10px;color:#262626;transform:scaleX(0.8608);-webkit-text-stroke:0.1px #262626;">435708</span>
<span class="t" style="left:983.40px;top:568px;font-size:15px;color:#262626;transform:scaleX(0.7787);-webkit-text-stroke:0.15px #262626;">******</span>
<span class="t" style="left:1011.50px;top:567px;font-size:10px;color:#262626;transform:scaleX(0.8684);-webkit-text-stroke:0.1px #262626;">8342</span>
<span class="t" style="left:1053.45px;top:567px;font-size:10px;color:#262626;transform:scaleX(0.9197);-webkit-text-stroke:0.1px #262626;">capturesuccess</span>
<div class="b" style="left:1137.2px;top:568px;width:191px;height:12px;background:#fff;border:1px solid #707070;"></div>
<span class="t" style="left:1140.60px;top:568px;font-size:10px;color:#1a1a1a;transform:scaleX(0.8902);-webkit-text-stroke:0.2px #1a1a1a;">Select Reason</span>
<svg class="b" style="left:1315px;top:571px" width="12" height="9" viewBox="0 0 12 9"><path d="M1.7 1.8L5.8 5.75L9.9 1.8" stroke="#222" stroke-width="2" fill="none"/></svg>
<div class="b" style="left:184px;top:589px;width:1154px;height:1px;background:#dcdcdc;"></div>
</body></html>
